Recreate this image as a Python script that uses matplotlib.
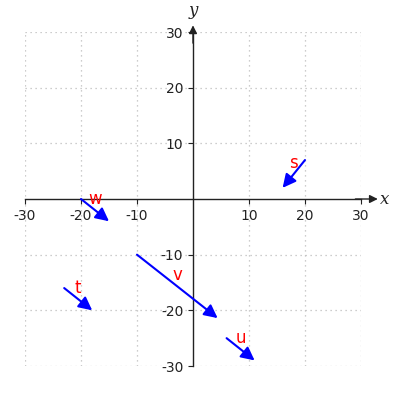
import matplotlib
matplotlib.use("Agg")
import matplotlib.pyplot as plt

plt.rcParams['axes.unicode_minus'] = False

# vector data: name, tail x, tail y, dx, dy
names = ["s", "t", "u", "v", "w"]
tail_x = [20, -23, 6, -10, -20]
tail_y = [7, -16, -25, -10, 0]
vec_dx = [-4, 5, 5, 14.4, 5]
vec_dy = [-5, -4, -4, -11.4, -4]
ticks = [-30, -20, -10, 10, 20, 30]

fig = plt.figure(figsize=(4, 4), dpi=100)
ax = fig.add_axes([0.0625, 0.085, 0.84, 0.835])
ax.set_xlim(-30, 30)
ax.set_ylim(-30, 30)

ax.spines['left'].set_position(('data', 0))
ax.spines['bottom'].set_position(('data', 0))
ax.spines['right'].set_visible(False)
ax.spines['top'].set_visible(False)
for sp in ('left', 'bottom'):
    ax.spines[sp].set_color('#222222')
    ax.spines[sp].set_linewidth(1.0)

ax.set_xticks(ticks)
ax.set_yticks(ticks)
ax.tick_params(labelsize=10, colors='#222222', length=3.5)
ax.grid(True, linestyle=(0, (1, 3)), color='#bdbdbd', linewidth=0.9)
ax.set_axisbelow(True)

# axis arrows
ax.annotate('', xy=(33, 0), xytext=(29, 0), annotation_clip=False,
            arrowprops=dict(arrowstyle='-|>', color='#222222', lw=1.0,
                            mutation_scale=12, shrinkA=0, shrinkB=0))
ax.annotate('', xy=(0, 31.2), xytext=(0, 28), annotation_clip=False,
            arrowprops=dict(arrowstyle='-|>', color='#222222', lw=1.0,
                            mutation_scale=12, shrinkA=0, shrinkB=0))
ax.text(34.3, 0, 'x', fontsize=12, family='DejaVu Serif', style='italic',
        va='center', ha='center', color='#222222')
ax.text(0, 33.8, 'y', fontsize=12, family='DejaVu Serif', style='italic',
        va='center', ha='center', color='#222222')

for n, x0, y0, dx, dy in zip(names, tail_x, tail_y, vec_dx, vec_dy):
    ax.annotate('', xy=(x0 + dx, y0 + dy), xytext=(x0, y0),
                arrowprops=dict(arrowstyle='-|>', color='blue', lw=1.5,
                                mutation_scale=20, shrinkA=0, shrinkB=0))
    ax.text(x0 + dx / 2, y0 + dy / 2 + 2, n, color='red', fontsize=12,
            ha='center', va='center')

fig.savefig('out.png', dpi=100)
